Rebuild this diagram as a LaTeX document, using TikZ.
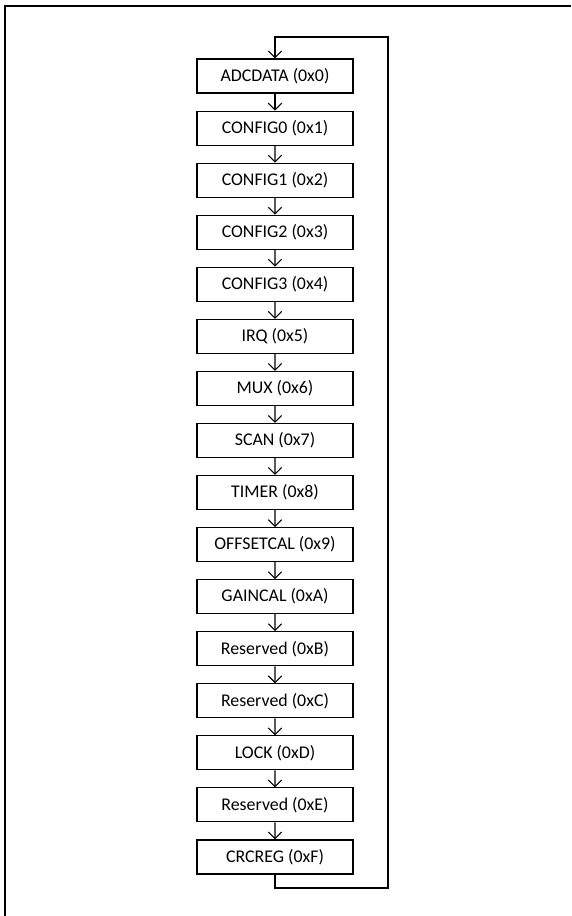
\documentclass[tikz,border=0pt]{standalone}
\usepackage{fontspec}
\setmainfont{Carlito}
\usetikzlibrary{arrows.meta}

\tikzset{
  regbox/.style={draw, line width=0.8pt, minimum width=117pt, minimum height=25.5pt,
    inner sep=0pt, font=\fontsize{13.4}{15}\selectfont},
  >={Straight Barb[length=5pt,width=10pt]}
}

\begin{document}
\begin{tikzpicture}[x=0.75pt,y=0.75pt]
\useasboundingbox (0,0) rectangle (571,916);
% frame round the page (only top and left edge show)
\draw[line width=1.6pt] (5,0) |- (571,910);
% the register list as one long chain, each "child" is
% the next register read after its parent
\node[regbox](r0) at (275,840){ADCDATA (0x0)}
  [grow=down, level distance=39.05pt, every child node/.style={regbox},
   edge from parent/.style={draw, line width=0.8pt, ->}]
  child{node(r1){CONFIG0 (0x1)}
    child{node(r2){CONFIG1 (0x2)}
      child{node(r3){CONFIG2 (0x3)}
        child{node(r4){CONFIG3 (0x4)}
          child{node(r5){IRQ (0x5)}
            child{node(r6){MUX (0x6)}
              child{node(r7){SCAN (0x7)}
                child{node(r8){TIMER (0x8)}
                  child{node(r9){OFFSETCAL (0x9)}
                    child{node(r10){GAINCAL (0xA)}
                      child{node(r11){Reserved (0xB)}
                        child{node(r12){Reserved (0xC)}
                          child{node(r13){LOCK (0xD)}
                            child{node(r14){Reserved (0xE)}
                              child{node(r15){CRCREG (0xF)}}
                            }
                          }
                        }
                      }
                    }
                  }
                }
              }
            }
          }
        }
      }
    }
  };
% wrap around from the last register back to the first
\coordinate (lowright) at (388,28);
\coordinate (topmid) at (275,879);
\draw[line width=0.8pt, ->] (r15.south) |- (lowright) |- (topmid) -- (r0.north);
\end{tikzpicture}
\end{document}
